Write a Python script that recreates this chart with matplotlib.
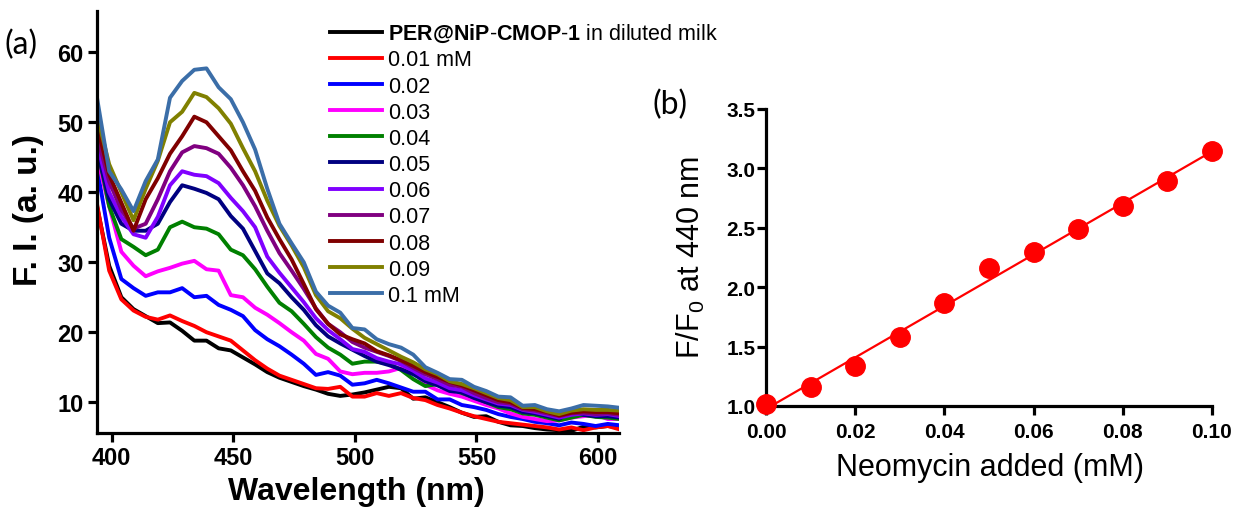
import numpy as np
import matplotlib
matplotlib.use('Agg')
import matplotlib.pyplot as plt

plt.rcParams['font.family'] = ['Liberation Sans', 'DejaVu Sans']
plt.rcParams['mathtext.fontset'] = 'custom'
plt.rcParams['mathtext.rm'] = 'Liberation Sans'
plt.rcParams['mathtext.bf'] = 'Liberation Sans:bold'
plt.rcParams['mathtext.it'] = 'Liberation Sans:italic'

# ---- panel (a): emission spectra ----
wavelength = [394, 399, 404, 409, 414, 419, 424, 429, 434, 439, 444, 449, 454, 459, 464,
              469, 474, 479, 484, 489, 494, 499, 504, 509, 514, 519, 524, 529, 534, 539,
              544, 549, 554, 559, 564, 569, 574, 579, 584, 589, 594, 599, 604, 609]

fi_blank = [38.0, 29.5, 25.0, 23.3, 22.3, 21.3, 21.4, 20.2, 18.8, 18.8, 17.7, 17.4, 16.4, 15.4, 14.3,
            13.5, 12.9, 12.3, 11.8, 11.2, 10.9, 11.1, 11.4, 11.8, 12.2, 12.0, 10.5, 10.7, 10.0, 9.3,
            8.5, 7.9, 8.0, 7.2, 6.7, 6.6, 6.3, 6.1, 6.0, 5.9, 6.5, 6.4, 6.6, 6.4]
fi_001 = [38.3, 28.8, 24.7, 23.1, 22.2, 21.8, 22.4, 21.6, 20.9, 20.0, 19.4, 18.8, 17.4, 16.0, 14.8,
          13.8, 13.2, 12.6, 12.0, 11.9, 12.2, 10.8, 10.8, 11.3, 10.9, 11.3, 10.6, 10.3, 9.6, 9.1,
          8.5, 8.0, 7.6, 7.2, 7.0, 6.8, 6.6, 6.4, 6.1, 6.4, 6.0, 6.4, 6.6, 6.1]
fi_002 = [43.5, 33.5, 27.6, 26.3, 25.2, 25.7, 25.7, 26.3, 25.0, 25.2, 23.9, 23.2, 22.3, 20.3, 19.0,
          18.0, 16.8, 15.5, 13.9, 14.3, 13.8, 12.5, 12.7, 13.2, 12.7, 12.1, 11.5, 11.5, 10.4, 10.4,
          9.6, 9.3, 8.9, 8.3, 7.9, 7.6, 7.2, 7.0, 6.7, 7.1, 6.9, 6.6, 6.9, 6.7]
fi_003 = [45.0, 38.0, 31.5, 29.5, 28.0, 28.7, 29.2, 29.8, 30.2, 29.0, 28.8, 25.3, 25.0, 23.5, 22.5,
          21.3, 20.0, 18.8, 16.9, 16.2, 14.4, 14.0, 14.2, 14.2, 14.4, 14.9, 14.5, 12.5, 11.7, 11.2,
          10.8, 10.2, 9.6, 9.1, 8.4, 7.9, 7.6, 7.3, 7.4, 7.8, 8.0, 8.2, 7.6, 7.6]
fi_004 = [46.5, 38.0, 33.3, 32.2, 31.0, 31.8, 35.0, 35.8, 35.0, 34.8, 34.0, 31.8, 31.0, 29.0, 26.5,
          24.2, 23.0, 21.2, 19.3, 17.8, 16.8, 15.5, 15.8, 15.8, 15.5, 14.6, 13.3, 12.3, 12.6, 12.0,
          11.3, 10.7, 10.0, 9.3, 9.0, 8.4, 8.2, 7.8, 7.4, 7.8, 8.2, 7.9, 7.8, 7.6]
fi_005 = [46.0, 39.0, 35.5, 34.5, 34.5, 35.5, 38.6, 41.0, 40.5, 39.9, 39.0, 36.6, 34.8, 31.6, 28.4,
          27.0, 25.0, 23.2, 21.0, 19.4, 18.4, 17.5, 16.6, 15.8, 15.3, 14.7, 14.0, 13.0, 12.4, 11.6,
          11.4, 10.6, 10.0, 9.5, 9.3, 8.6, 8.4, 8.0, 7.6, 8.8, 8.2, 8.0, 8.0, 7.8]
fi_006 = [47.0, 40.0, 36.5, 34.0, 33.5, 36.5, 41.0, 43.0, 42.5, 42.3, 41.3, 39.2, 37.3, 35.0, 30.8,
          28.5, 26.4, 24.3, 22.0, 20.3, 19.0, 17.6, 17.2, 16.3, 15.8, 15.4, 14.5, 13.4, 12.8, 12.0,
          11.7, 11.0, 10.4, 9.8, 9.6, 8.9, 8.6, 8.2, 7.8, 8.2, 8.4, 8.2, 8.3, 8.0]
fi_007 = [48.0, 41.5, 37.5, 34.8, 35.5, 39.0, 43.0, 45.7, 46.6, 46.3, 45.5, 43.5, 41.0, 38.0, 34.5,
          31.3, 28.8, 26.2, 23.4, 21.2, 20.0, 18.6, 17.8, 17.2, 16.6, 15.9, 14.9, 14.0, 13.3, 12.5,
          12.2, 11.3, 10.6, 10.0, 9.8, 9.0, 8.8, 8.4, 8.0, 8.4, 8.5, 8.3, 8.4, 8.2]
fi_008 = [49.5, 42.5, 38.5, 34.5, 39.0, 42.0, 45.5, 48.0, 50.8, 50.0, 48.0, 46.0, 43.0, 40.2, 36.4,
          33.3, 30.4, 26.9, 23.3, 21.2, 19.7, 19.0, 18.4, 17.3, 16.7, 16.0, 15.2, 14.3, 13.6, 12.9,
          12.4, 11.7, 11.0, 10.3, 10.0, 9.2, 9.0, 8.6, 8.1, 8.5, 8.7, 8.6, 8.6, 8.4]
fi_009 = [51.0, 44.0, 40.0, 36.0, 40.5, 44.5, 50.0, 51.5, 54.2, 53.6, 52.0, 49.8, 46.3, 43.0, 38.8,
          35.2, 32.4, 29.3, 25.3, 23.0, 22.0, 20.5, 19.2, 18.3, 17.4, 16.5, 15.7, 14.7, 14.0, 13.0,
          12.6, 12.0, 11.3, 10.6, 10.3, 9.3, 9.3, 8.7, 8.3, 8.8, 9.0, 8.9, 8.9, 8.8]
fi_010 = [53.5, 43.0, 40.4, 37.3, 41.6, 44.7, 53.5, 55.9, 57.5, 57.7, 55.0, 53.3, 50.0, 46.1, 40.5,
          35.5, 32.7, 30.0, 25.8, 23.8, 22.8, 20.6, 20.4, 19.0, 18.3, 17.8, 16.8, 15.0, 14.2, 13.3,
          13.2, 12.2, 11.6, 10.8, 10.7, 9.5, 9.6, 9.0, 8.7, 9.1, 9.6, 9.5, 9.4, 9.2]

spectra = [fi_blank, fi_001, fi_002, fi_003, fi_004, fi_005,
           fi_006, fi_007, fi_008, fi_009, fi_010]
labels = [r'$\mathbf{PER@NiP}$-$\mathbf{CMOP}$-$\mathbf{1}$ in diluted milk',
          '0.01 mM', '0.02', '0.03', '0.04', '0.05', '0.06', '0.07', '0.08', '0.09', '0.1 mM']
colors = ['#000000', '#ff0000', '#0000ff', '#ff00ff', '#008000', '#000080',
          '#8000ff', '#800080', '#800000', '#808000', '#3b6ea8']

# ---- panel (b): F/F0 vs neomycin ----
neomycin = [0.00, 0.01, 0.02, 0.03, 0.04, 0.05, 0.06, 0.07, 0.08, 0.09, 0.10]
ratio = [1.02, 1.16, 1.34, 1.58, 1.87, 2.16, 2.30, 2.49, 2.68, 2.89, 3.15]

fig = plt.figure(figsize=(12.36, 5.10), dpi=100)
ax1 = fig.add_axes([0.0785, 0.149, 0.4223, 0.8275])
ax2 = fig.add_axes([0.6197, 0.202, 0.3608, 0.5824])

for y, lab, c in zip(spectra, labels, colors):
    ax1.plot(wavelength, y, color=c, lw=2.8, label=lab)

ax1.set_xlim(394, 608.6)
ax1.set_ylim(5.6, 65.9)
ax1.set_xticks([400, 450, 500, 550, 600])
ax1.set_yticks([10, 20, 30, 40, 50, 60])
for s in ['top', 'right']:
    ax1.spines[s].set_visible(False)
for s in ['left', 'bottom']:
    ax1.spines[s].set_linewidth(2.3)
ax1.tick_params(direction='out', length=6.5, width=2.3, pad=3, labelsize=17)
for t in ax1.get_xticklabels() + ax1.get_yticklabels():
    t.set_fontweight('bold')

fig.text(356 / 1236, 1 - 492 / 510, 'Wavelength (nm)', ha='center', va='center',
         fontsize=23, fontweight='bold')
fig.text(28 / 1236, 1 - 210 / 510, 'F. I. (a. u.)', ha='center', va='center',
         rotation=90, fontsize=24, fontweight='bold')
fig.text(4 / 1236, 1 - 45 / 510, '(a)', ha='left', va='center', fontsize=23, family='Lato')

fig.legend(loc='upper left', bbox_to_anchor=(330 / 1236, 1 - 23 / 510), frameon=False,
           fontsize=15.5, handlelength=2.4, handletextpad=0.3, labelspacing=0.24,
           borderpad=0, borderaxespad=0)

# panel (b)
k, b = np.polyfit(neomycin, ratio, 1)
xfit = np.array([0.0, 0.10])
ax2.plot(xfit, k * xfit + b, color='#ff0000', lw=1.6, clip_on=False)
ax2.plot(neomycin, ratio, 'o', color='#ff0000', ms=14, clip_on=False, zorder=5)
ax2.set_xlim(0, 0.1)
ax2.set_ylim(1.0, 3.5)
ax2.set_xticks(neomycin[::2])
ax2.set_xticklabels([f'{v:.2f}' for v in neomycin[::2]])
ax2.set_yticks([1.0, 1.5, 2.0, 2.5, 3.0, 3.5])
ax2.set_yticklabels(['1.0', '1.5', '2.0', '2.5', '3.0', '3.5'])
for s in ['top', 'right']:
    ax2.spines[s].set_visible(False)
for s in ['left', 'bottom']:
    ax2.spines[s].set_linewidth(2.3)
ax2.tick_params(direction='out', length=6.5, width=2.3, labelsize=15)
ax2.tick_params(axis='y', pad=1)
ax2.tick_params(axis='x', pad=5)
for t in ax2.get_xticklabels() + ax2.get_yticklabels():
    t.set_fontweight('bold')

fig.text(990 / 1236, 1 - 468 / 510, 'Neomycin added (mM)', ha='center', va='center', fontsize=22)
fig.text(691 / 1236, 1 - 258 / 510, r'F/F$_{\mathregular{0}}$ at 440 nm', ha='center', va='center',
         rotation=90, fontsize=22)
fig.text(653 / 1236, 1 - 105 / 510, '(b)', ha='left', va='center', fontsize=23, family='Lato')

fig.savefig('out.png', dpi=100)
